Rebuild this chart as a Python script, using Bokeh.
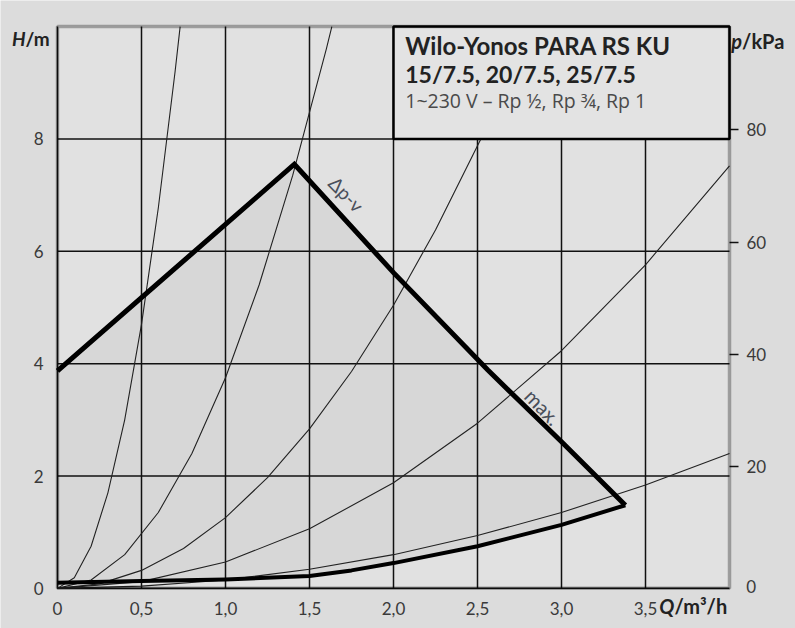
from bokeh.plotting import figure
from bokeh.models import Range1d, LinearAxis, FixedTicker, Label, BoxAnnotation
from bokeh.embed import file_html
from bokeh.resources import INLINE

# ---- data ----
Q_MAX = 4.0
H_MAX = 10.0
x_ticks = [0, 0.5, 1.0, 1.5, 2.0, 2.5, 3.0, 3.5]
x_tick_labels = ["0", "0,5", "1,0", "1,5", "2,0", "2,5", "3,0", "3,5"]
y_ticks = [0, 2, 4, 6, 8]
p_ticks = [20, 40, 60, 80]
p_tick_labels = ["20", "40", "60", "80"]

# operating range: upper boundary (dp-v rise, then max curve) and lower min curve
upper_q = [0.0, 1.41, 2.0, 2.56, 3.0, 3.38]
upper_h = [3.87, 7.55, 5.62, 3.89, 2.61, 1.48]
lower_q = [0.0, 0.5, 1.0, 1.5, 1.75, 2.0, 2.5, 3.0, 3.38]
lower_h = [0.10, 0.13, 0.16, 0.22, 0.32, 0.45, 0.75, 1.13, 1.48]

# system curves (thin)
sysA_q = [0.0, 0.1, 0.2, 0.3, 0.4, 0.5, 0.6, 0.7, 0.73]
sysA_h = [0.0, 0.19, 0.75, 1.7, 3.0, 4.7, 6.77, 9.2, 10.0]
sysB_q = [0.0, 0.2, 0.4, 0.6, 0.8, 1.0, 1.2, 1.4, 1.6, 1.633]
sysB_h = [0.0, 0.15, 0.6, 1.35, 2.4, 3.75, 5.4, 7.35, 9.6, 10.0]
sysC_q = [0.0, 0.25, 0.5, 0.75, 1.0, 1.25, 1.5, 1.75, 2.0, 2.25, 2.52, 2.82]
sysC_h = [0.0, 0.08, 0.32, 0.71, 1.26, 1.97, 2.84, 3.86, 5.04, 6.38, 8.0, 10.0]
sysD_q = [0.0, 0.5, 1.0, 1.5, 2.0, 2.5, 3.0, 3.5, 4.0]
sysD_h = [0.0, 0.12, 0.47, 1.06, 1.88, 2.94, 4.23, 5.76, 7.52]
sysE_q = [0.0, 0.5, 1.0, 1.5, 2.0, 2.5, 3.0, 3.5, 4.0]
sysE_h = [0.0, 0.04, 0.15, 0.34, 0.6, 0.94, 1.35, 1.84, 2.4]

title_lines = ["Wilo-Yonos PARA RS KU", "15/7.5, 20/7.5, 25/7.5", "1~230 V – Rp ½, Rp ¾, Rp 1"]

TICK_FONT = "Lato"
BOX_FONT = "Lato"
OUTER = "#dcdcdc"
INNER = "#e1e1e1"

# frame covers the whole canvas; the plot box (0..Q_MAX, 0..H_MAX) sits inside it
p = figure(width=795, height=628, output_backend="svg", toolbar_location=None,
           x_range=Range1d(-57 / 168, Q_MAX + 66 / 168),
           y_range=Range1d(-40 / 56, H_MAX + 26 / 56),
           x_axis_location=None, y_axis_location=None,
           min_border=0, min_border_left=0, min_border_right=0, min_border_top=0, min_border_bottom=0)
p.background_fill_color = OUTER
p.border_fill_color = OUTER
p.outline_line_color = None
p.grid.visible = False

p.extra_y_ranges = {"kpa": Range1d(-8.818, 103.05)}

# plot-box background
p.quad(left=[0], right=[Q_MAX], bottom=[0], top=[H_MAX], fill_color=INNER, line_color=None)

# operating range fill
poly_q = upper_q + lower_q[::-1]
poly_h = upper_h + lower_h[::-1]
p.patch(poly_q, poly_h, fill_color="#d7d7d7", line_color=None)

# grid lines
p.segment(x0=x_ticks, y0=[0] * len(x_ticks), x1=x_ticks, y1=[H_MAX] * len(x_ticks),
          line_color="#111111", line_width=1.5)
p.segment(x0=[0] * len(y_ticks), y0=y_ticks, x1=[Q_MAX] * len(y_ticks), y1=y_ticks,
          line_color="#111111", line_width=1.5)

# axes (fixed at the plot box edges)
xax = LinearAxis(fixed_location=0, ticker=FixedTicker(ticks=x_ticks))
xax.major_label_overrides = dict(zip(x_ticks, x_tick_labels))
yax = LinearAxis(fixed_location=0, ticker=FixedTicker(ticks=y_ticks))
for ax in (xax, yax):
    ax.axis_line_color = None
    ax.major_tick_line_color = None
    ax.minor_tick_line_color = None
    ax.major_label_text_font = TICK_FONT
    ax.major_label_text_font_size = "17px"
    ax.major_label_text_color = "#3a3a3a"
    ax.major_label_standoff = 8
p.add_layout(xax, "below")
p.add_layout(yax, "left")

rax = LinearAxis(y_range_name="kpa", fixed_location=Q_MAX, ticker=FixedTicker(ticks=p_ticks))
rax.major_label_overrides = dict(zip(p_ticks, p_tick_labels))
rax.axis_line_color = None
rax.major_tick_out = 9
rax.major_tick_in = 0
rax.major_tick_line_width = 1.5
rax.major_tick_line_color = "#111111"
rax.minor_tick_line_color = None
rax.major_label_text_font = TICK_FONT
rax.major_label_text_font_size = "17px"
rax.major_label_text_color = "#3a3a3a"
rax.major_label_standoff = 8
p.add_layout(rax, "right")

# system curves
for qs, hs in ((sysA_q, sysA_h), (sysB_q, sysB_h), (sysC_q, sysC_h), (sysD_q, sysD_h), (sysE_q, sysE_h)):
    p.line(qs, hs, line_color="#222222", line_width=1.1)

# boundaries
p.line(upper_q, upper_h, line_color="black", line_width=5, line_join="miter")
p.line(lower_q, lower_h, line_color="black", line_width=4, line_join="round")

# title box (drawn after the curves so it covers them)
p.quad(left=[2.0], right=[Q_MAX], bottom=[8.0], top=[H_MAX], fill_color="#e3e3e3",
       line_color="black", line_width=2.5)

# plot box outline, with the bottom edge running on to the right-axis zero tick
p.add_layout(BoxAnnotation(left=0, right=Q_MAX, bottom=0, top=H_MAX, fill_alpha=0,
                           line_color="black", line_width=3.5))

ys = [9.66, 9.16, 8.68]
sizes = ["24px", "23px", "19.5px"]
styles = ["bold", "bold", "normal"]
colors = ["#222222", "#222222", "#4a4a4a"]
fonts = [BOX_FONT, BOX_FONT, "Open Sans"]
for t, yv, s, st, c, f in zip(title_lines, ys, sizes, styles, colors, fonts):
    p.add_layout(Label(x=2.07, y=yv, text=t, text_font=f, text_font_size=s, text_font_style=st,
                       text_color=c, text_baseline="middle", text_align="left"))

# curve labels
p.add_layout(Label(x=1.72, y=7.02, text="Δp-v", angle=-0.80, text_font=TICK_FONT, text_font_size="19px",
                   text_color="#4a4f5a", text_baseline="middle", text_align="center"))
p.add_layout(Label(x=2.89, y=3.23, text="max.", angle=-0.80, text_font=TICK_FONT, text_font_size="20px",
                   text_color="#4a4f5a", text_baseline="middle", text_align="center"))

# axis titles: italic quantity symbol + bold unit
def axis_title(x, y, sym, unit, size):
    p.add_layout(Label(x=x, y=y, text=sym, text_font=TICK_FONT, text_font_size=size,
                       text_font_style="bold italic", text_color="#222222",
                       text_baseline="middle", text_align="right"))
    p.add_layout(Label(x=x, y=y, text=unit, text_font=TICK_FONT, text_font_size=size,
                       text_font_style="bold", text_color="#222222",
                       text_baseline="middle", text_align="left"))

axis_title(-0.19, 9.79, "H", "/m", "19px")
axis_title(4.075, 9.75, "p", "/kPa", "20px")
axis_title(3.672, -0.32, "Q", "/m³/h", "20px")

# right axis zero label at the plot-box bottom
p.add_layout(Label(x=4.1, y=0.03, text="0", text_font=TICK_FONT, text_font_size="17px",
                   text_color="#3a3a3a", text_baseline="middle", text_align="left"))

open("out.html", "w").write(file_html(p, INLINE))
